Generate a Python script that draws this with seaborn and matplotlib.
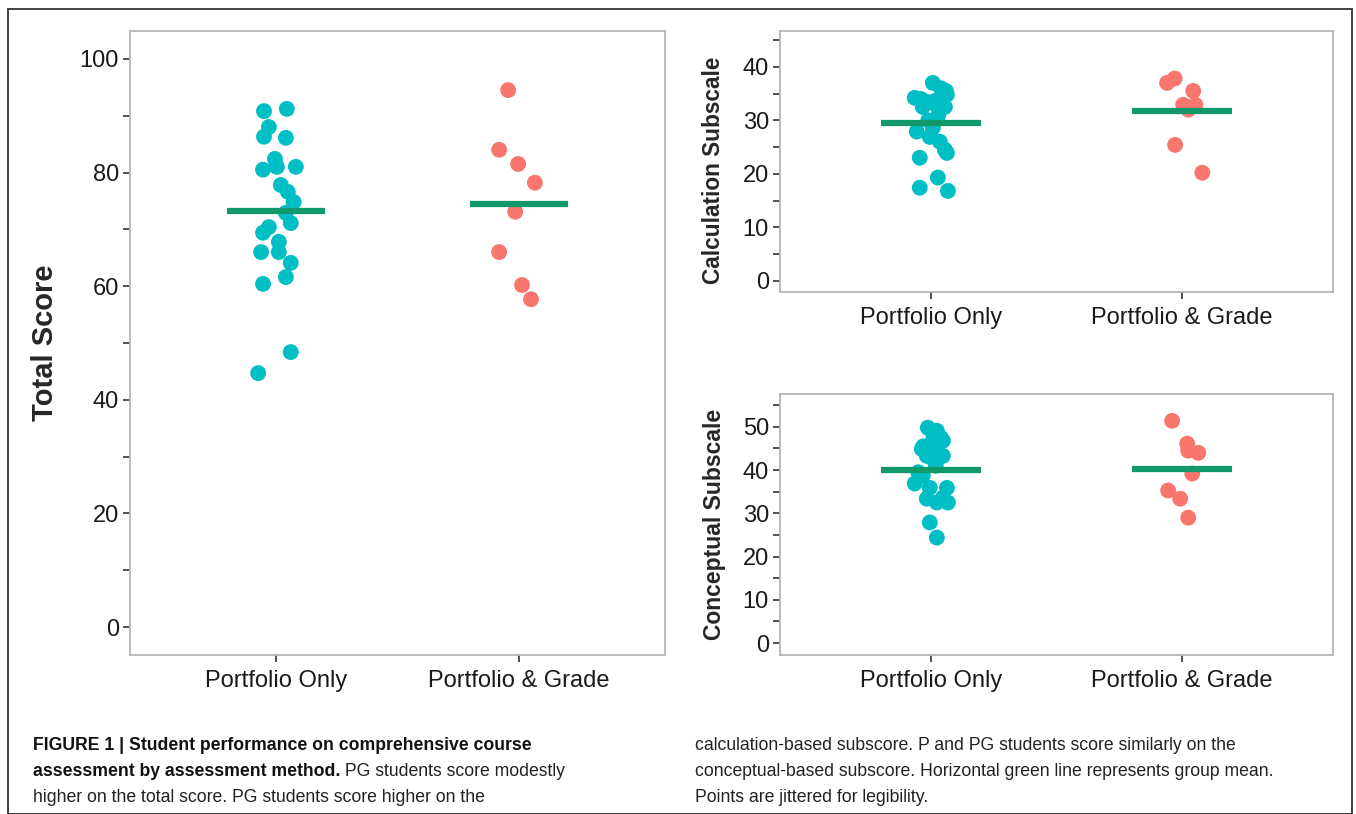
import numpy as np
import pandas as pd
import matplotlib.pyplot as plt
import seaborn as sns
from matplotlib.patches import Rectangle

# groups and colours
groups = ["Portfolio Only", "Portfolio & Grade"]
teal = "#00BFC4"
salmon = "#F8766D"
green = "#12996B"

# Total score
total_po = [90.8, 91.2, 88.0, 86.3, 86.1, 82.4, 81.0, 80.5, 81.0, 77.8, 76.6, 74.8,
            72.9, 71.1, 70.4, 69.4, 67.8, 66.0, 66.0, 64.1, 61.6, 60.4, 48.4, 44.7]
total_po_jit = [-0.049, 0.045, -0.029, -0.049, 0.041, -0.004, 0.004, -0.053, 0.082, 0.020, 0.049, 0.073,
                0.041, 0.061, -0.029, -0.053, 0.012, -0.061, 0.012, 0.061, 0.041, -0.053, 0.061, -0.073]
total_pg = [94.5, 84.0, 81.5, 78.2, 73.1, 66.0, 60.2, 57.7]
total_pg_jit = [-0.045, -0.082, -0.004, 0.065, -0.016, -0.082, 0.012, 0.049]

# Calculation subscale
calc_po = [37.0, 34.2, 32.5, 33.6, 34.8, 32.5, 27.9, 28.6, 26.9, 24.5, 26.0, 23.9,
           23.0, 19.3, 17.4, 16.8, 35.0, 34.0, 33.0, 33.5, 31.0, 30.0, 36.0, 35.5]
calc_po_jit = [0.008, -0.064, -0.032, 0.016, 0.064, 0.056, -0.056, 0.008, -0.004, 0.056, 0.036, 0.064,
               -0.044, 0.028, -0.044, 0.068, 0.050, -0.040, 0.020, -0.020, 0.030, -0.010, 0.040, 0.060]
calc_pg = [37.0, 37.8, 35.5, 32.9, 32.9, 32.0, 25.4, 20.2]
calc_pg_jit = [-0.060, -0.030, 0.044, 0.004, 0.052, 0.024, -0.028, 0.080]

# Conceptual subscale
conc_po = [49.8, 49.1, 46.8, 44.9, 43.3, 43.3, 36.9, 38.7, 35.9, 33.4, 33.6, 35.9,
           32.5, 32.5, 27.9, 24.4, 48.0, 47.5, 46.0, 45.5, 44.0, 42.5, 39.5, 41.0]
conc_po_jit = [-0.012, 0.024, 0.048, -0.036, -0.016, 0.048, -0.064, -0.032, -0.004, -0.016, 0.048, 0.064,
               0.068, 0.024, -0.004, 0.024, 0.010, 0.040, 0.000, -0.030, 0.030, 0.010, -0.050, 0.020]
conc_pg = [51.4, 46.1, 44.5, 44.0, 39.2, 35.3, 33.4, 29.0]
conc_pg_jit = [-0.040, 0.020, 0.024, 0.064, 0.040, -0.056, -0.008, 0.024]

caption_left_bold = ["FIGURE 1 | Student performance on comprehensive course",
                     "assessment by assessment method."]
caption_left_rest = ["", " PG students score modestly", "higher on the total score. PG students score higher on the"]
caption_right = ["calculation-based subscore. P and PG students score similarly on the",
                 "conceptual-based subscore. Horizontal green line represents group mean.",
                 "Points are jittered for legibility."]

sns.set_style("white")
plt.rcParams['font.family'] = ['Liberation Sans', 'DejaVu Sans']

W, H = 1356, 814
fig = plt.figure(figsize=(W / 100, H / 100), dpi=100)


def px_axes(x0, y0, x1, y1):
    return fig.add_axes([x0 / W, 1 - y1 / H, (x1 - x0) / W, (y1 - y0) / H])


def draw_panel(ax, po, po_jit, pg, pg_jit, ylabel, ylim, step, label_every, ylab_size, ylab_x, ylab_y=0.5):
    df = pd.DataFrame({
        "x": list(np.array(po_jit) + 0) + list(np.array(pg_jit) + 1),
        "y": po + pg,
        "group": [groups[0]] * len(po) + [groups[1]] * len(pg),
    })
    sns.scatterplot(data=df, x="x", y="y", hue="group", palette=[teal, salmon],
                    s=130, linewidth=0, alpha=1, legend=False, ax=ax, zorder=2)
    means = df.groupby("group", sort=False)["y"].mean()
    for i, g in enumerate(groups):
        ax.hlines(means[g], i - 0.2, i + 0.2, color=green, lw=4.5, zorder=3)

    ax.set_xlim(-0.6, 1.6)
    ax.set_ylim(*ylim)
    ax.set_xticks([0, 1])
    ax.set_xticklabels(groups)
    ticks = np.arange(0, ylim[1], step)
    ax.set_yticks(ticks)
    ax.set_yticklabels([f"{t:g}" if t % label_every == 0 else "" for t in ticks])
    ax.tick_params(axis="both", length=5, width=1.2, color="#333333",
                   labelsize=17, labelcolor="#1a1a1a", pad=3)
    ax.tick_params(axis="x", pad=6)
    ax.tick_params(left=True, bottom=True)
    for sp in ax.spines.values():
        sp.set_color("#b5b5b5")
        sp.set_linewidth(1.3)
    ax.set_xlabel("")
    ax.set_ylabel(ylabel, fontsize=ylab_size, fontweight="bold", va="center")
    ax.yaxis.set_label_coords(ylab_x, ylab_y)


ax1 = px_axes(130, 31, 665, 655)
draw_panel(ax1, total_po, total_po_jit, total_pg, total_pg_jit, "Total Score",
           (-4.9, 104.9), 10, 20, 21, (45 - 130) / 535)

ax2 = px_axes(780, 31, 1333, 292)
draw_panel(ax2, calc_po, calc_po_jit, calc_pg, calc_pg_jit, "Calculation Subscale",
           (-2.1, 46.7), 5, 10, 16.3, (714 - 780) / 553, 0.465)

ax3 = px_axes(780, 394, 1333, 655)
draw_panel(ax3, conc_po, conc_po_jit, conc_pg, conc_pg_jit, "Conceptual Subscale",
           (-2.75, 57.6), 5, 10, 16.5, (714 - 780) / 553)

# outer frame
fig.patches.append(Rectangle((8 / W, 0), (1352 - 8) / W, 1 - 9 / H, transform=fig.transFigure,
                             fill=False, edgecolor="#333333", lw=1.3))

# caption
cap_font = ['Liberation Sans', 'DejaVu Sans']
cap_size = 12.7
line_y = [746, 771, 797]
renderer = fig.canvas.get_renderer()
for i in range(3):
    x = 33
    if i < 2:
        t = fig.text(x / W, 1 - line_y[i] / H, caption_left_bold[i], family=cap_font,
                     fontsize=cap_size, fontweight="bold", va="center", ha="left", color="#111111")
        bb = t.get_window_extent(renderer)
        x = bb.x1
    if caption_left_rest[i]:
        fig.text(x / W, 1 - line_y[i] / H, caption_left_rest[i], family=cap_font,
                 fontsize=cap_size, va="center", ha="left", color="#222222")
    fig.text(695 / W, 1 - line_y[i] / H, caption_right[i], family=cap_font,
             fontsize=cap_size, va="center", ha="left", color="#222222")

fig.savefig("out.png", dpi=100)
